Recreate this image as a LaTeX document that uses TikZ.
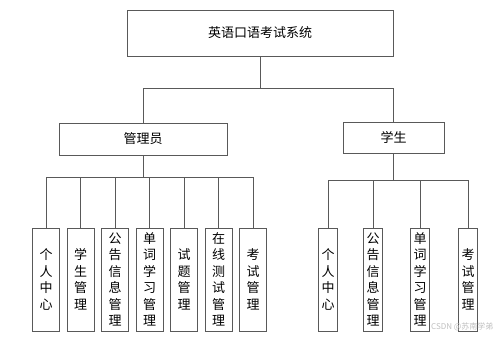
\documentclass[tikz,border=0pt]{standalone}
\usepackage{fontspec}
\newfontfamily\cjk{Noto Sans CJK SC}
\usepackage{xcolor}
\usetikzlibrary{positioning}

\begin{document}
\begin{tikzpicture}[
  x=1pt, y=-1pt,
  font=\cjk\fontsize{13}{16.5}\selectfont,
  box/.style={rectangle, draw=black!65, line width=0.8pt, align=center, inner sep=0pt},
  leaf/.style={box, minimum width=27pt, minimum height=103pt},
  sleaf/.style={box, minimum width=19pt, minimum height=103pt},
  line/.style={draw=black!65, line width=0.8pt}
]
  \useasboundingbox (0,0) rectangle (500,339);

  \node [box, minimum width=266pt, minimum height=46pt] (sys) at (260,33) {英语口语考试系统};
  \node [box, minimum width=168pt, minimum height=32pt] (admin) at (143,139) {管理员};
  \node [box, minimum width=101pt, minimum height=31pt] (student) at (393.5,137.5) {学生};

  % admin side
  \node [leaf] (a1) at (46,279.5) {个\\人\\中\\心};
  \node [leaf] (a2) at (80.5,279.5) {学\\生\\管\\理};
  \node [leaf] (a3) at (115,279.5) {公\\告\\信\\息\\管\\理};
  \node [leaf] (a4) at (149.5,279.5) {单\\词\\学\\习\\管\\理};
  \node [leaf] (a5) at (184,279.5) {试\\题\\管\\理};
  \node [leaf] (a6) at (218.5,279.5) {在\\线\\测\\试\\管\\理};
  \node [leaf] (a7) at (253,279.5) {考\\试\\管\\理};

  % student side
  \node [sleaf] (s1) at (328,279.5) {个\\人\\中\\心};
  \node [sleaf] (s2) at (373,279.5) {公\\告\\信\\息\\管\\理};
  \node [sleaf] (s3) at (420,279.5) {单\\词\\学\\习\\管\\理};
  \node [sleaf] (s4) at (468,279.5) {考\\试\\管\\理};

  \draw [line] (sys.south) -- ++(0,32) coordinate (top);
  \draw [line] (admin.north) |- (top) -| (student.north);

  \draw [line] (admin.south) -- ++(0,22) coordinate (abus);
  \draw [line] (a1.north) |- (abus) -| (a7.north);
  \draw [line] (a2.north) -- (a2.north |- abus);
  \draw [line] (a3.north) -- (a3.north |- abus);
  \draw [line] (a4.north) -- (a4.north |- abus);
  \draw [line] (a5.north) -- (a5.north |- abus);
  \draw [line] (a6.north) -- (a6.north |- abus);

  \draw [line] (student.south) -- ++(0,26.5) coordinate (sbus);
  \draw [line] (s1.north) |- (sbus) -| (s4.north);
  \draw [line] (s2.north) -- (s2.north |- sbus);
  \draw [line] (s3.north) -- (s3.north |- sbus);

  \node [text=black!25, font=\cjk\fontsize{8}{9}\selectfont, anchor=east] (mark) at (497,327) {CSDN @苏南学弟};
\end{tikzpicture}
\end{document}
